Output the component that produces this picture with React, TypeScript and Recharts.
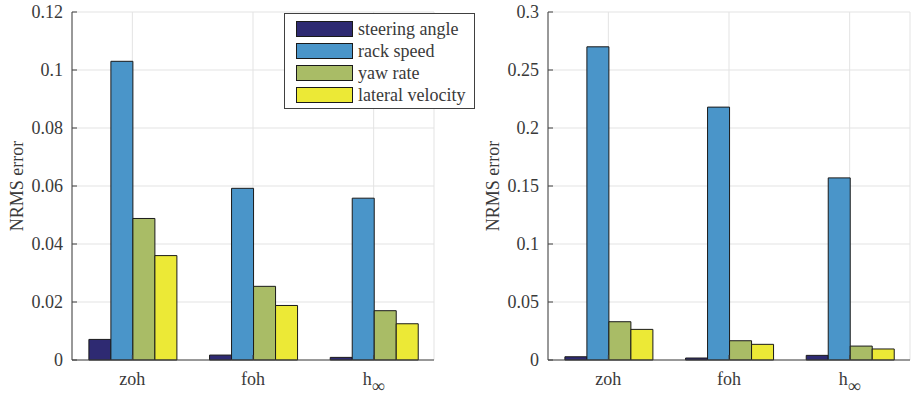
import { Bar, BarChart, CartesianGrid, XAxis, YAxis } from 'recharts'

const FONT = '"Liberation Serif", "Times New Roman", serif'
const TEXT = '#3a3a3a'
const FRAME = '#404040'

const categories = ['zoh', 'foh', 'h∞']
const seriesNames = ['steering angle', 'rack speed', 'yaw rate', 'lateral velocity']
const seriesColors = ['#2e2a72', '#4a95c9', '#a9bc66', '#ece936']

// left panel
const leftSteering = [0.0071, 0.0017, 0.0009]
const leftRack = [0.103, 0.0592, 0.0558]
const leftYaw = [0.0488, 0.0254, 0.017]
const leftLateral = [0.036, 0.0188, 0.0125]
const leftTicks = [0, 0.02, 0.04, 0.06, 0.08, 0.1, 0.12]

// right panel
const rightSteering = [0.0028, 0.0017, 0.004]
const rightRack = [0.27, 0.218, 0.157]
const rightYaw = [0.033, 0.0166, 0.012]
const rightLateral = [0.0264, 0.0135, 0.0095]
const rightTicks = [0, 0.05, 0.1, 0.15, 0.2, 0.25, 0.3]

const keys = ['steering', 'rack', 'yaw', 'lateral']

function buildRows(series: number[][]) {
  return categories.map((name, i) => {
    const row: Record<string, string | number> = { name }
    keys.forEach((k, j) => {
      row[k] = series[j][i]
    })
    return row
  })
}

const leftData = buildRows([leftSteering, leftRack, leftYaw, leftLateral])
const rightData = buildRows([rightSteering, rightRack, rightYaw, rightLateral])

function CategoryTick({ x, y, payload }: any) {
  const label = String(payload.value)
  const isInf = label.endsWith('∞')
  return (
    <text x={x} y={y + 20} textAnchor="middle" fill={TEXT} fontSize={18} fontFamily={FONT}>
      {isInf ? (
        <>
          <tspan>h</tspan>
          <tspan dy={7}>∞</tspan>
        </>
      ) : (
        label
      )}
    </text>
  )
}

function YLabel({ viewBox }: any) {
  const cy = viewBox.y + viewBox.height / 2
  return (
    <text
      x={17}
      y={cy}
      transform={`rotate(-90, 17, ${cy})`}
      textAnchor="middle"
      dominantBaseline="central"
      fill={TEXT}
      fontSize={18}
      fontFamily={FONT}
    >
      NRMS error
    </text>
  )
}

function Panel({ data, ticks }: { data: Record<string, string | number>[]; ticks: number[] }) {
  const max = ticks[ticks.length - 1]
  return (
    <BarChart
      width={440}
      height={397}
      data={data}
      margin={{ top: 12, right: 6, bottom: 0, left: 0 }}
      barCategoryGap="14%"
      barGap={0}
    >
      <CartesianGrid stroke="#e3e3e3" />
      <XAxis
        dataKey="name"
        height={37}
        tick={<CategoryTick />}
        tickSize={-5}
        tickMargin={10}
        axisLine={{ stroke: FRAME }}
        tickLine={{ stroke: FRAME }}
      />
      <XAxis
        xAxisId="top"
        dataKey="name"
        orientation="top"
        height={0}
        tick={false}
        tickSize={-5}
        axisLine={{ stroke: FRAME }}
        tickLine={{ stroke: FRAME }}
      />
      <YAxis
        width={72}
        domain={[0, max]}
        ticks={ticks}
        interval={0}
        tickSize={-5}
        tickMargin={14}
        tick={{ fill: TEXT, fontSize: 18, fontFamily: FONT }}
        axisLine={{ stroke: FRAME }}
        tickLine={{ stroke: FRAME }}
        label={{ position: 'insideLeft', content: <YLabel /> }}
      />
      <YAxis
        yAxisId="right"
        orientation="right"
        width={0}
        domain={[0, max]}
        ticks={ticks}
        interval={0}
        tick={false}
        tickSize={-5}
        axisLine={{ stroke: FRAME }}
        tickLine={{ stroke: FRAME }}
      />
      {keys.map((k, i) => (
        <Bar
          key={k}
          dataKey={k}
          name={seriesNames[i]}
          fill={seriesColors[i]}
          stroke="#1a1a1a"
          strokeWidth={1}
          isAnimationActive={false}
        />
      ))}
    </BarChart>
  )
}

function LegendBox() {
  return (
    <div
      style={{
        position: 'absolute',
        left: 284,
        top: 13,
        width: 191,
        height: 96,
        boxSizing: 'border-box',
        border: `1px solid ${FRAME}`,
        background: '#fff',
        fontFamily: FONT,
        fontSize: 18,
        color: TEXT,
      }}
    >
      {seriesNames.map((name, i) => (
        <div key={name}>
          <div
            style={{
              position: 'absolute',
              left: 11,
              top: 7 + i * 22,
              width: 57,
              height: 16,
              boxSizing: 'border-box',
              border: '1px solid #1a1a1a',
              background: seriesColors[i],
            }}
          />
          <div
            style={{
              position: 'absolute',
              left: 73,
              top: 7 + i * 22 - 3,
              height: 22,
              lineHeight: '22px',
              whiteSpace: 'nowrap',
            }}
          >
            {name}
          </div>
        </div>
      ))}
    </div>
  )
}

export default function App() {
  return (
    <div style={{ position: 'absolute', left: 0, top: 0, width: 911, height: 397, background: '#fff' }}>
      <div style={{ position: 'absolute', left: 0, top: 0 }}>
        <Panel data={leftData} ticks={leftTicks} />
      </div>
      <div style={{ position: 'absolute', left: 476, top: 0 }}>
        <Panel data={rightData} ticks={rightTicks} />
      </div>
      <LegendBox />
    </div>
  )
}
